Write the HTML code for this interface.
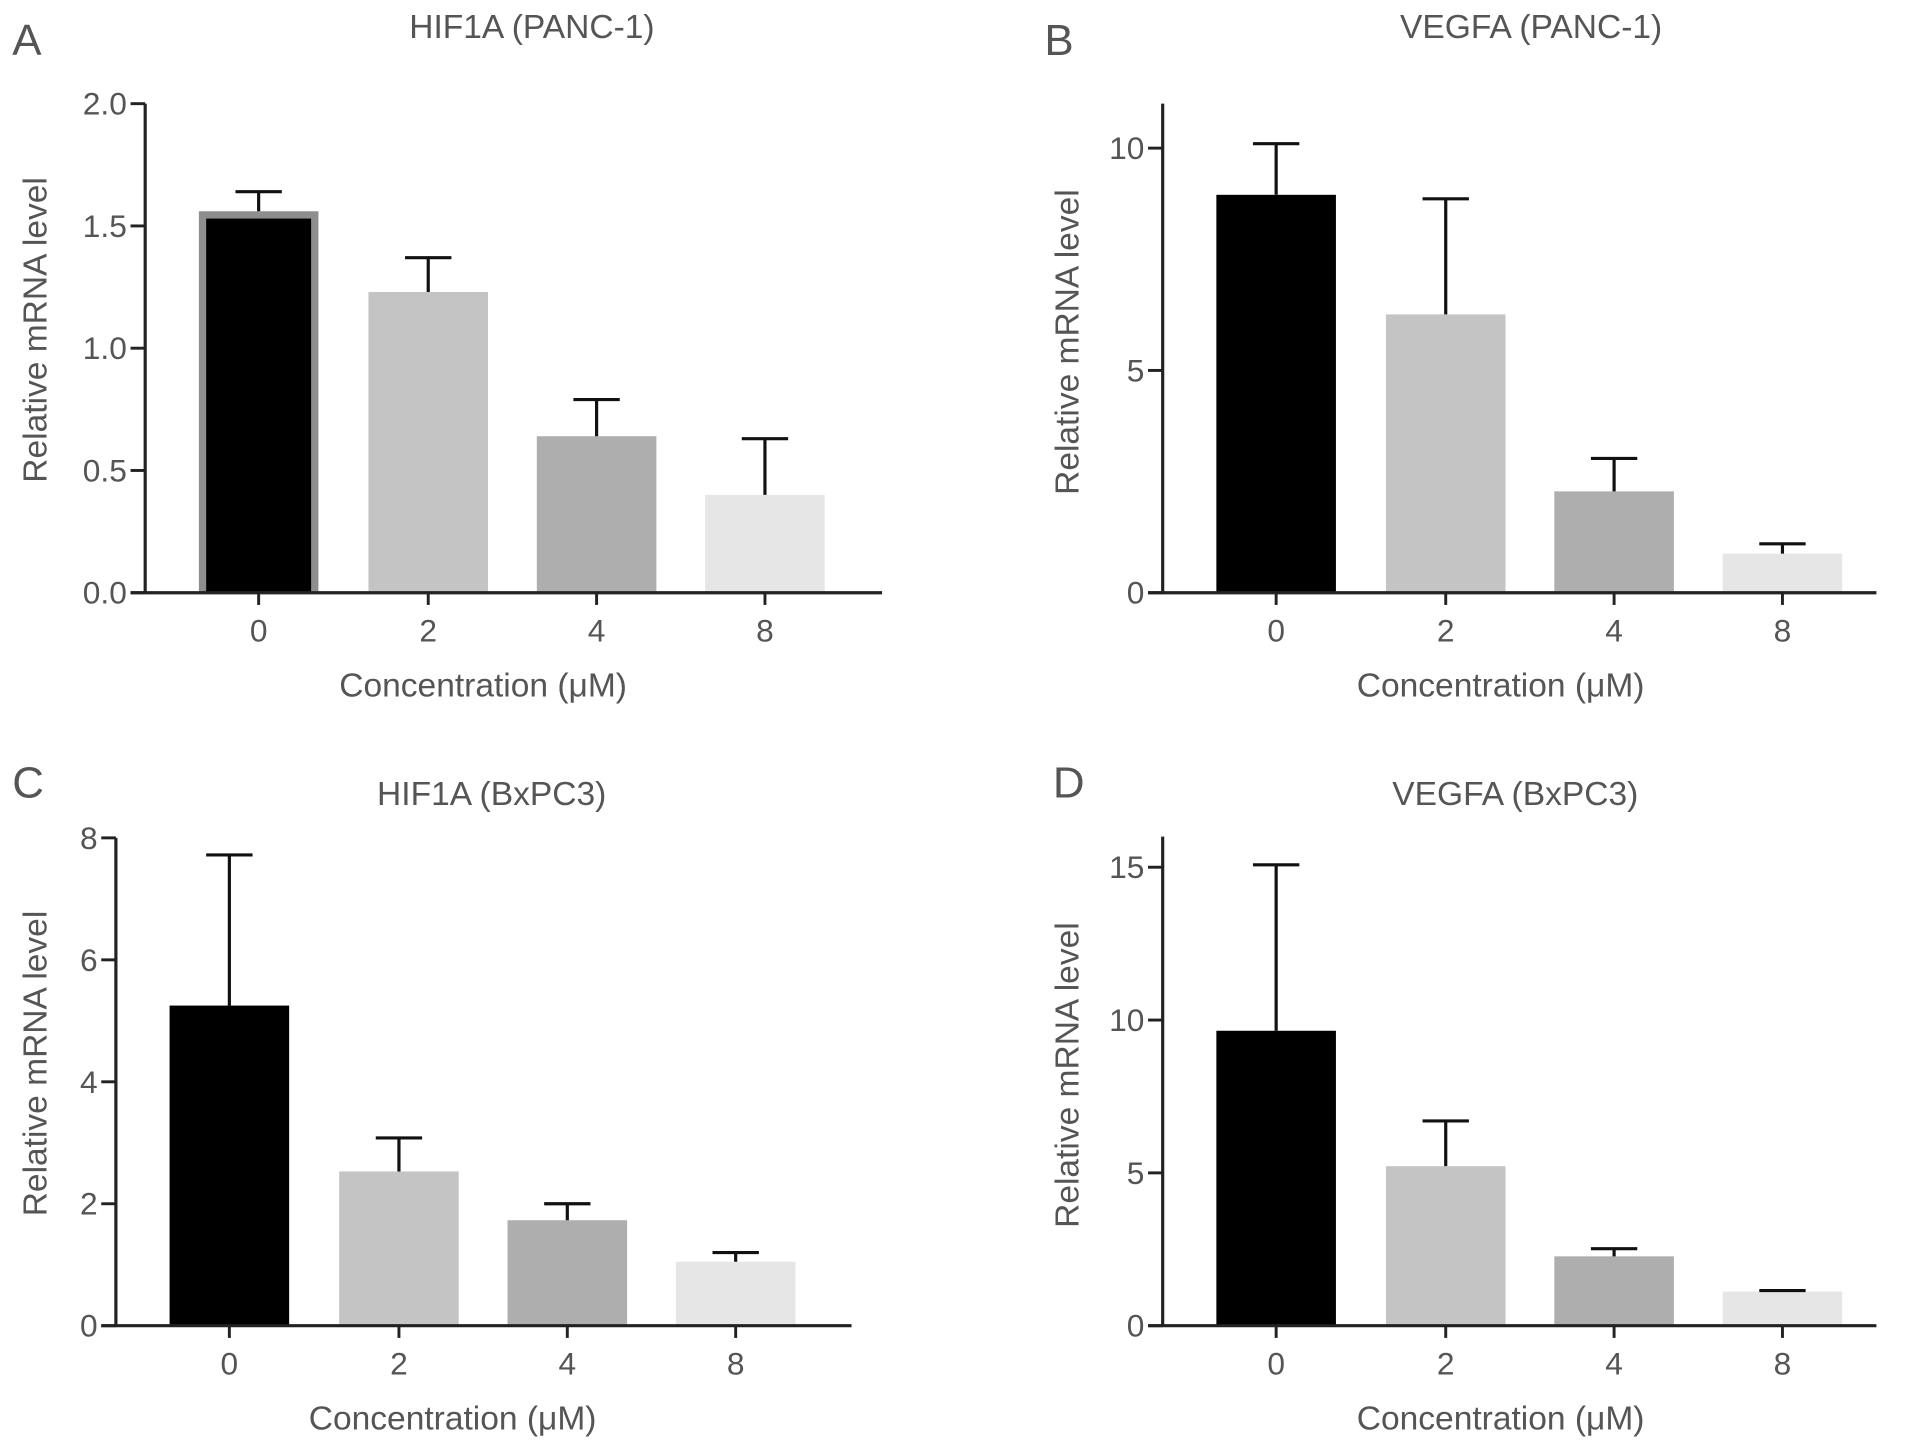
<!DOCTYPE html>
<html><head><meta charset="utf-8"><style>
html,body{margin:0;padding:0;background:#fff;}
svg{display:block;}
text{font-family:"Liberation Sans",sans-serif;fill:#555;}
</style></head><body>
<svg id="fig" width="1913" height="1455" viewBox="0 0 1568 1193" preserveAspectRatio="none" xmlns="http://www.w3.org/2000/svg"></svg>
<script>
const categories = ["0","2","4","8"];
const colors = ["#000000","#c4c4c4","#aeaeae","#e6e6e6"];
const aValues = [1.56, 1.23, 0.64, 0.40];
const aErrors = [0.08, 0.14, 0.15, 0.23];
const aTicks = ["0.0","0.5","1.0","1.5","2.0"];
const bValues = [8.95, 6.26, 2.28, 0.88];
const bErrors = [1.15, 2.6, 0.74, 0.22];
const bTicks = ["0","5","10"];
const cValues = [5.25, 2.53, 1.73, 1.05];
const cErrors = [2.47, 0.55, 0.27, 0.15];
const cTicks = ["0","2","4","6","8"];
const dValues = [9.65, 5.22, 2.27, 1.12];
const dErrors = [5.43, 1.48, 0.25, 0.03];
const dTicks = ["0","5","10","15"];

const svg = document.getElementById('fig');
const NS = "http://www.w3.org/2000/svg";
function mk(tag, attrs, parent){
  const e = document.createElementNS(NS, tag);
  for (const k in attrs) e.setAttribute(k, attrs[k]);
  (parent||svg).appendChild(e);
  return e;
}
const FS = 27.5;
const TFS = 26;
const panels = [
  {id:"a", letter:"A", lx:10, ly:45, title:"HIF1A (PANC-1)", tx:436, ty:31, ax:119, top:85, base:486, xEnd:723, xStart:107, ymax:2.0, centers:[212,351,489,627], vals:aValues, errs:aErrors, ticks:aTicks, labx:28, xtitle:396, border:true},
  {id:"b", letter:"B", lx:856, ly:45, title:"VEGFA (PANC-1)", tx:1255, ty:31, ax:953, top:85, base:486, xEnd:1538, xStart:941, ymax:11.0, centers:[1046,1185,1323,1461], vals:bValues, errs:bErrors, ticks:bTicks, labx:874, xtitle:1230},
  {id:"c", letter:"C", lx:10, ly:654, title:"HIF1A (BxPC3)", tx:403, ty:660, ax:95, top:687, base:1087, xEnd:698, xStart:83, ymax:8.0, centers:[188,327,465,603], vals:cValues, errs:cErrors, ticks:cTicks, labx:28, xtitle:371},
  {id:"d", letter:"D", lx:863, ly:654, title:"VEGFA (BxPC3)", tx:1242, ty:660, ax:953, top:686, base:1087, xEnd:1538, xStart:941, ymax:16.0, centers:[1046,1185,1323,1461], vals:dValues, errs:dErrors, ticks:dTicks, labx:874, xtitle:1230}
];
const barW = 98;
panels.forEach(p=>{
  const g = mk('g',{});
  
  
  const y = v => p.base - (v/p.ymax)*(p.base-p.top);
  let t = mk('text',{x:p.lx,y:p.ly,'font-size':36,fill:'#333'},g); t.textContent=p.letter;
  
  
  t = mk('text',{x:p.tx,y:p.ty,'font-size':FS,'text-anchor':'middle'},g); t.textContent=p.title;
  
  
  p.vals.forEach((v,i)=>{
    const cx = p.centers[i];
    const top = y(v);
    if (p.border && i===0){
      const gr = mk('rect',{x:cx-barW/2,y:top,width:barW,height:p.base-top,fill:'#8e8e8e'},g);
      
      
    }
    const inset = (p.border && i===0) ? 6 : 0;
    const r = mk('rect',{x:cx-barW/2+inset,y:top+inset,width:barW-2*inset,height:p.base-top-inset,fill:colors[i]},g);
    
    
    const et = y(v+p.errs[i]);
    const e = mk('path',{d:`M${cx},${top} V${et} M${cx-19},${et} H${cx+19}`,stroke:'#111','stroke-width':2.6,fill:'none'},g);
    
    
    const tk = mk('line',{x1:cx,x2:cx,y1:p.base,y2:p.base+10,stroke:'#222','stroke-width':2.4},g);
    
    
    const tl = mk('text',{x:cx,y:p.base+40,'font-size':TFS,'text-anchor':'middle'},g); tl.textContent=categories[i];
    
    
  });
  const ya = mk('line',{x1:p.ax,x2:p.ax,y1:p.top,y2:p.base,stroke:'#222','stroke-width':2.6},g);
  
  
  const xa = mk('line',{x1:p.xStart,x2:p.xEnd,y1:p.base,y2:p.base,stroke:'#222','stroke-width':2.6},g);
  
  
  p.ticks.forEach(lbl=>{
    const ty = y(parseFloat(lbl));
    const tk = mk('line',{x1:p.ax-12,x2:p.ax,y1:ty,y2:ty,stroke:'#222','stroke-width':2.4},g);
    
    
    const tl = mk('text',{x:p.ax-15,y:ty+9,'font-size':TFS,'text-anchor':'end'},g); tl.textContent=lbl;
    
    
  });
  const mid = (p.top+p.base)/2;
  t = mk('text',{x:0,y:0,'font-size':FS,'text-anchor':'middle',transform:`translate(${p.labx+10},${mid+(p.id==='a'||p.id==='c'?-15:-5)}) rotate(-90)`},g); t.textContent='Relative mRNA level';
  
  
  t = mk('text',{x:p.xtitle,y:p.base+85,'font-size':FS,'text-anchor':'middle'},g); t.textContent='Concentration (\u03bcM)';
  
  
});
</script>
</body></html>
